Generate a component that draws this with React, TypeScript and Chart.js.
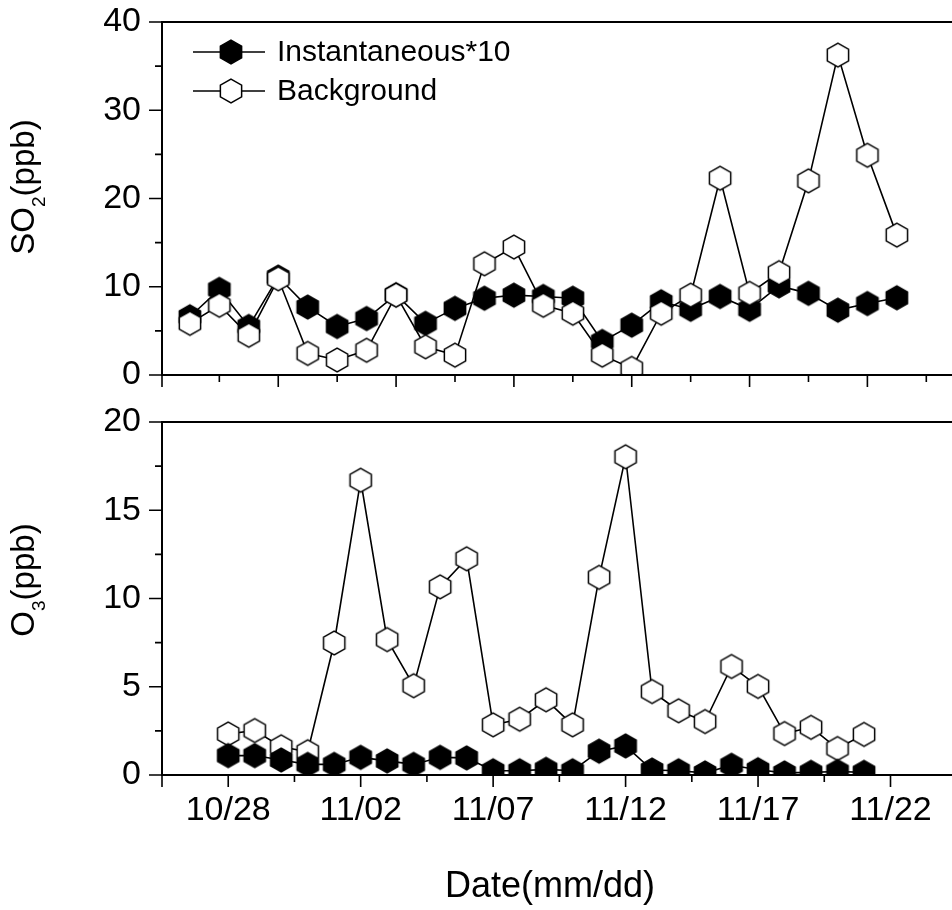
import React, { useEffect, useRef } from "react";
import { Chart, registerables } from "chart.js";

Chart.register(...registerables);

const FONT = "'Liberation Sans', Arial, Helvetica, sans-serif";

// Sampling dates (one value per day)
const dates = [
  "10/28", "10/29", "10/30", "10/31", "11/01", "11/02", "11/03", "11/04", "11/05",
  "11/06", "11/07", "11/08", "11/09", "11/10", "11/11", "11/12", "11/13", "11/14",
  "11/15", "11/16", "11/17", "11/18", "11/19", "11/20", "11/21",
];

const seriesLabels = ["Instantaneous*10", "Background"];

const so2Instantaneous = [6.6, 9.7, 5.5, 11.1, 7.7, 5.5, 6.4, 9.1, 5.85, 7.55, 8.7, 9.05, 8.9, 8.7, 3.8, 5.65, 8.3, 7.45, 8.9, 7.45, 10.1, 9.25, 7.35, 8.1, 8.75];
const so2Background = [5.85, 7.9, 4.5, 10.9, 2.45, 1.7, 2.8, 9.05, 3.2, 2.25, 12.6, 14.5, 7.9, 7.0, 2.25, 0.75, 7.0, 9.05, 22.3, 9.25, 11.6, 22.0, 36.25, 24.9, 15.85];
const o3Instantaneous = [1.1, 1.1, 0.85, 0.6, 0.6, 1.0, 0.8, 0.6, 1.0, 0.97, 0.24, 0.24, 0.32, 0.24, 1.35, 1.65, 0.28, 0.24, 0.12, 0.55, 0.3, 0.12, 0.15, 0.2, 0.15];
const o3Background = [2.33, 2.52, 1.6, 1.32, 7.48, 16.7, 7.67, 5.06, 10.66, 12.25, 2.84, 3.16, 4.26, 2.84, 11.2, 18.03, 4.73, 3.64, 3.03, 6.15, 5.02, 2.35, 2.7, 1.5, 2.3];

// Tick positions (in day offsets from 10/28) and labels
const dateTickValues = [0, 5, 10, 15, 20, 25];
const dateTickLabels = ["10/28", "11/02", "11/07", "11/12", "11/17", "11/22"];
const dateMinorTicks = [2.5, 7.5, 12.5, 17.5, 22.5, 27.5];
const topMajorX = [3, 7, 11, 15, 19, 23, 27];
const topMinorX = [1, 5, 9, 13, 17, 21, 25];
const so2MajorY = [0, 10, 20, 30, 40];
const so2MinorY = [5, 15, 25, 35];
const o3MajorY = [0, 5, 10, 15, 20];
const o3MinorY = [2.5, 7.5, 12.5, 17.5];

function hexPath(ctx: CanvasRenderingContext2D, cx: number, cy: number, r: number) {
  ctx.beginPath();
  for (let k = 0; k < 6; k++) {
    const a = -Math.PI / 2 + (k * Math.PI) / 3;
    const px = cx + r * Math.cos(a) * 1.04;
    const py = cy + r * Math.sin(a);
    if (k === 0) ctx.moveTo(px, py);
    else ctx.lineTo(px, py);
  }
  ctx.closePath();
}

function makeHex(fill: string) {
  const c = document.createElement("canvas");
  c.width = 28;
  c.height = 28;
  const ctx = c.getContext("2d")!;
  hexPath(ctx, 14, 14, 11.8);
  ctx.fillStyle = fill;
  ctx.fill();
  ctx.lineWidth = 1.5;
  ctx.strokeStyle = "#000";
  ctx.stroke();
  return c;
}

function drawRotatedTitle(
  ctx: CanvasRenderingContext2D,
  main: string,
  sub: string,
  rest: string,
  baseX: number,
  centerY: number
) {
  const big = `33px ${FONT}`;
  const small = `19px ${FONT}`;
  ctx.save();
  ctx.font = big;
  const w1 = ctx.measureText(main).width;
  const w3 = ctx.measureText(rest).width;
  ctx.font = small;
  const w2 = ctx.measureText(sub).width;
  const total = w1 + w2 + w3;
  ctx.translate(baseX, centerY);
  ctx.rotate(-Math.PI / 2);
  ctx.fillStyle = "#000";
  ctx.textBaseline = "alphabetic";
  ctx.textAlign = "left";
  let xx = -total / 2;
  ctx.font = big;
  ctx.fillText(main, xx, 0);
  xx += w1;
  ctx.font = small;
  ctx.fillText(sub, xx, 11);
  xx += w2;
  ctx.font = big;
  ctx.fillText(rest, xx, 0);
  ctx.restore();
}

type Cfg = {
  xMajor: number[];
  xMinor: number[];
  yMajor: number[];
  yMinor: number[];
  extra?: (chart: any) => void;
};

function axesPlugin(cfg: Cfg) {
  return {
    id: "axesFrame",
    afterDraw(chart: any) {
      const { ctx, chartArea: a } = chart;
      const xs = chart.scales.x;
      const ys = chart.scales.y;
      ctx.save();
      ctx.strokeStyle = "#000";
      ctx.lineWidth = 2;
      ctx.strokeRect(a.left, a.top, a.right - a.left, a.bottom - a.top);
      ctx.lineWidth = 1.6;
      ctx.beginPath();
      const xTick = (v: number, len: number) => {
        const px = xs.getPixelForValue(v);
        ctx.moveTo(px, a.bottom);
        ctx.lineTo(px, a.bottom + len);
      };
      const yTick = (v: number, len: number) => {
        const py = ys.getPixelForValue(v);
        ctx.moveTo(a.left, py);
        ctx.lineTo(a.left - len, py);
      };
      xTick(xs.min, 12);
      cfg.xMajor.forEach((v) => xTick(v, 12));
      cfg.xMinor.forEach((v) => xTick(v, 7));
      cfg.yMajor.forEach((v) => yTick(v, 13));
      cfg.yMinor.forEach((v) => yTick(v, 7));
      ctx.stroke();
      ctx.restore();
      if (cfg.extra) cfg.extra(chart);
    },
  };
}

function baseYScale(min: number, max: number, step: number) {
  return {
    type: "linear" as const,
    position: "left" as const,
    min,
    max,
    afterFit: (s: any) => {
      s.width = 162;
      s.paddingTop = 0;
      s.paddingBottom = 0;
    },
    border: { display: false },
    grid: { display: false, drawTicks: false },
    ticks: {
      stepSize: step,
      padding: 21,
      color: "#000",
      font: { family: FONT, size: 34 },
    },
  };
}

export default function App() {
  const topRef = useRef<HTMLCanvasElement>(null);
  const botRef = useRef<HTMLCanvasElement>(null);

  useEffect(() => {
    const filled = makeHex("#000");
    const open = makeHex("#fff");

    const mk = (vals: number[]) => vals.map((v, i) => ({ x: i, y: v }));

    const legendDraw = (chart: any) => {
      const ctx: CanvasRenderingContext2D = chart.ctx;
      const rows = [
        { y: 52, img: filled, text: seriesLabels[0] },
        { y: 91, img: open, text: seriesLabels[1] },
      ];
      ctx.save();
      rows.forEach((r) => {
        ctx.strokeStyle = "#000";
        ctx.lineWidth = 1.6;
        ctx.beginPath();
        ctx.moveTo(193, r.y);
        ctx.lineTo(265, r.y);
        ctx.stroke();
        ctx.drawImage(r.img, 231 - 14, r.y - 14);
        ctx.fillStyle = "#000";
        ctx.font = `30px ${FONT}`;
        ctx.textBaseline = "middle";
        ctx.textAlign = "left";
        ctx.fillText(r.text, 277, r.y + 1);
      });
      ctx.restore();
      drawRotatedTitle(ctx, "SO", "2", "(ppb)", 34, 187);
    };

    const top = new Chart(topRef.current!, {
      type: "line",
      data: {
        datasets: [
          {
            label: seriesLabels[1],
            data: mk(so2Background),
            borderColor: "#000",
            borderWidth: 1.6,
            pointStyle: open as any,
            pointRadius: 12,
            clip: 0 as any,
            order: 0,
          },
          {
            label: seriesLabels[0],
            data: mk(so2Instantaneous),
            borderColor: "#000",
            borderWidth: 1.6,
            pointStyle: filled as any,
            pointRadius: 12,
            clip: 0 as any,
            order: 1,
          },
        ],
      },
      options: {
        responsive: false,
        animation: false,
        layout: { padding: { top: 22, right: 10, bottom: 25, left: 0 } },
        plugins: { legend: { display: false }, tooltip: { enabled: false } },
        scales: {
          x: { type: "linear", display: false, min: -0.9465, max: 27.04 },
          y: baseYScale(0, 40, 10) as any,
        },
      },
      plugins: [
        axesPlugin({ xMajor: topMajorX, xMinor: topMinorX, yMajor: so2MajorY, yMinor: so2MinorY, extra: legendDraw }),
      ],
    });

    const botExtra = (chart: any) => {
      const ctx: CanvasRenderingContext2D = chart.ctx;
      drawRotatedTitle(ctx, "O", "3", "(ppb)", 34, 180);
      ctx.save();
      ctx.fillStyle = "#000";
      ctx.font = `36px ${FONT}`;
      ctx.textAlign = "center";
      ctx.textBaseline = "alphabetic";
      ctx.fillText("Date(mm/dd)", 550, 497);
      ctx.restore();
    };

    const bot = new Chart(botRef.current!, {
      type: "line",
      data: {
        datasets: [
          {
            label: seriesLabels[0],
            data: mk(o3Instantaneous),
            borderColor: "#000",
            borderWidth: 1.6,
            pointStyle: filled as any,
            pointRadius: 12,
            clip: 0 as any,
            order: 0,
          },
          {
            label: seriesLabels[1],
            data: mk(o3Background),
            borderColor: "#000",
            borderWidth: 1.6,
            pointStyle: open as any,
            pointRadius: 12,
            clip: 0 as any,
            order: 1,
          },
        ],
      },
      options: {
        responsive: false,
        animation: false,
        layout: { padding: { top: 22, right: 10, bottom: 0, left: 0 } },
        plugins: { legend: { display: false }, tooltip: { enabled: false } },
        scales: {
          x: {
            type: "linear",
            position: "bottom",
            min: -2.5,
            max: 28.62,
            afterFit: (s: any) => {
              s.height = 135;
              s.paddingLeft = 0;
              s.paddingRight = 0;
            },
            afterBuildTicks: (s: any) => {
              s.ticks = dateTickValues.map((v) => ({ value: v }));
            },
            border: { display: false },
            grid: { display: false, drawTicks: false },
            ticks: {
              padding: 15,
              color: "#000",
              font: { family: FONT, size: 34 },
              maxRotation: 0,
              autoSkip: false,
              callback: (v: any) => {
                const idx = dateTickValues.indexOf(Number(v));
                return idx >= 0 ? dateTickLabels[idx] : "";
              },
            },
          },
          y: baseYScale(0, 20, 5) as any,
        },
      },
      plugins: [
        axesPlugin({ xMajor: dateTickValues, xMinor: dateMinorTicks, yMajor: o3MajorY, yMinor: o3MinorY, extra: botExtra }),
      ],
    });

    void dates;
    return () => {
      top.destroy();
      bot.destroy();
    };
  }, []);

  return (
    <div
      style={{
        position: "absolute",
        left: 0,
        top: 0,
        width: 952,
        height: 910,
        overflow: "hidden",
        background: "#fff",
      }}
    >
      <canvas ref={topRef} width={1000} height={400} style={{ position: "absolute", left: 0, top: 0 }} />
      <canvas ref={botRef} width={1000} height={510} style={{ position: "absolute", left: 0, top: 400 }} />
    </div>
  );
}
